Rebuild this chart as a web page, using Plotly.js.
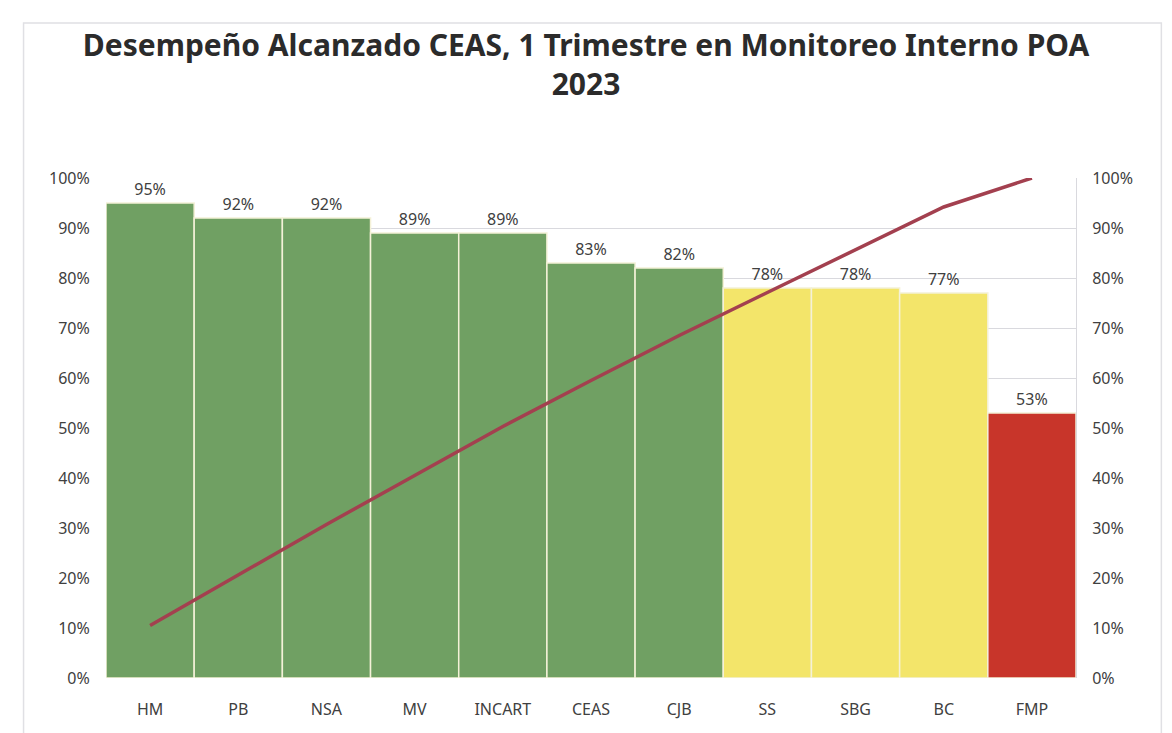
<!DOCTYPE html>
<html>
<head>
<meta charset="utf-8">
<script src="https://cdn.plot.ly/plotly-3.0.1.min.js"></script>
<style>html,body{margin:0;padding:0;background:#fff;}#chart{width:1172px;height:733px;}</style>
</head>
<body>
<div id="chart"></div>
<script>
const categories = ["HM","PB","NSA","MV","INCART","CEAS","CJB","SS","SBG","BC","FMP"];
const desempeno = [0.95,0.92,0.92,0.89,0.89,0.83,0.82,0.78,0.78,0.77,0.53];
const acumulado = [0.105,0.206,0.307,0.405,0.503,0.595,0.685,0.771,0.857,0.942,1.0];
const barColors = ["#70a063","#70a063","#70a063","#70a063","#70a063","#70a063","#70a063","#f3e56a","#f3e56a","#f3e56a","#c8352a"];
const yTickVals = [0,0.1,0.2,0.3,0.4,0.5,0.6,0.7,0.8,0.9,1.0];
const yTickText = ["0%","10%","20%","30%","40%","50%","60%","70%","80%","90%","100%"];

const font = "Noto Sans, Open Sans, sans-serif";
const bars = {
  type: "bar", x: categories, y: desempeno,
  marker: {color: barColors, line: {color: "#f4f1d8", width: 1.5}},
  text: desempeno.map(v => Math.round(v*100) + "%"),
  textposition: "outside", cliponaxis: false,
  textfont: {family: font, size: 16, color: "#404040"},
  hoverinfo: "x+y", showlegend: false
};
const line = {
  type: "scatter", mode: "lines", x: categories, y: acumulado, yaxis: "y2",
  line: {color: "#a3404f", width: 3.5}, showlegend: false
};
const layout = {
  width: 1172, height: 733,
  paper_bgcolor: "#fff", plot_bgcolor: "#fff",
  margin: {l: 106, r: 96, t: 178, b: 55},
  bargap: 0,
  title: {text: "<b>Desempeño Alcanzado CEAS, 1 Trimestre en Monitoreo Interno POA<br>2023</b>",
          font: {family: font, size: 30, color: "#2b2b2b"}, x: 0.5, xanchor: "center",
          yref: "container", y: 0.923, yanchor: "middle"},
  xaxis: {type: "category", tickfont: {family: font, size: 16, color: "#404040"}, ticks: "", showline: false, showgrid: false, automargin: false, ticklabelstandoff: 20},
  yaxis: {range: [0, 1], tickvals: yTickVals, ticktext: yTickText, showgrid: true, gridcolor: "#d9d9de", gridwidth: 1,
          tickfont: {family: font, size: 16, color: "#404040"}, zeroline: false, showline: false, ticklen: 12, ticks: "outside", tickcolor: "rgba(0,0,0,0)", automargin: false},
  yaxis2: {range: [0, 1], overlaying: "y", side: "right", tickvals: yTickVals, ticktext: yTickText, showgrid: false,
           tickfont: {family: font, size: 16, color: "#404040"}, zeroline: false, showline: true, linecolor: "#d9d9de", ticklen: 12, ticks: "outside", tickcolor: "rgba(0,0,0,0)", automargin: false},
  shapes: [{type: "rect", xref: "paper", yref: "paper", x0: -0.085, x1: 1.088, y0: -0.125, y1: 1.31, line: {color: "#e0e0e4", width: 1.5}}]
};
Plotly.newPlot("chart", [bars, line], layout, {displayModeBar: false, staticPlot: true});
</script>
</body>
</html>
